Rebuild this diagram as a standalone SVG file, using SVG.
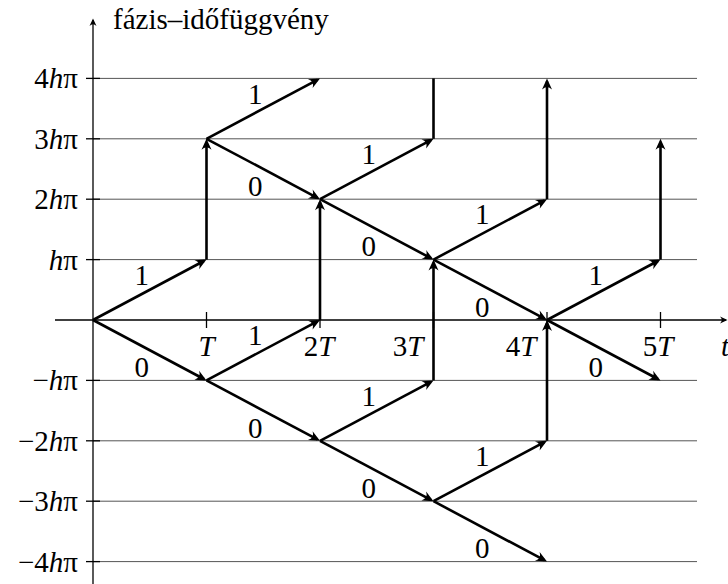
<svg xmlns="http://www.w3.org/2000/svg" width="728" height="584" viewBox="0 0 728 584">
<style>
text{font-family:"Liberation Serif","Times New Roman",serif;fill:#000}
.lab{font-size:29px;text-anchor:middle}
.yl{font-size:29px;text-anchor:end}
.it{font-style:italic}
.grid line{stroke:#555;stroke-width:1}
.tick line{stroke:#000;stroke-width:1.3}
.axis{stroke:#000;stroke-width:1.3;fill:none}
.e{stroke:#000;stroke-width:2.6;fill:none}
.ea{stroke:#000;stroke-width:2.6;fill:none;marker-end:url(#ah)}
</style>
<defs>
<marker id="ah" markerUnits="userSpaceOnUse" markerWidth="30" markerHeight="30" refX="0" refY="0" orient="auto" overflow="visible" viewBox="-15 -15 30 30">
<path d="M3,0 L-8,-5 Q-3,0 -8,5 Z" fill="#000"/>
</marker>
<marker id="axh" markerUnits="userSpaceOnUse" markerWidth="20" markerHeight="20" refX="0" refY="0" orient="auto" overflow="visible" viewBox="-10 -10 20 20">
<path d="M1.5,0 L-6,-3.5 Q-2.5,0 -6,3.5 Z" fill="#000"/>
</marker>
</defs>
<rect width="728" height="584" fill="#fff"/>
<g id="grid" class="grid">
<line x1="93" y1="78.4" x2="697" y2="78.4"/>
<line x1="93" y1="138.8" x2="697" y2="138.8"/>
<line x1="93" y1="199.2" x2="697" y2="199.2"/>
<line x1="93" y1="259.6" x2="697" y2="259.6"/>
<line x1="93" y1="380.4" x2="697" y2="380.4"/>
<line x1="93" y1="440.8" x2="697" y2="440.8"/>
<line x1="93" y1="501.2" x2="697" y2="501.2"/>
<line x1="93" y1="561.6" x2="697" y2="561.6"/>
</g>
<g id="axes">
<line class="axis" x1="93" y1="584" x2="93" y2="20" marker-end="url(#axh)"/>
<line class="axis" x1="55" y1="320" x2="726" y2="320" marker-end="url(#axh)"/>
</g>
<g id="ticks" class="tick">
<line x1="86" y1="78.4" x2="100" y2="78.4"/>
<line x1="86" y1="138.8" x2="100" y2="138.8"/>
<line x1="86" y1="199.2" x2="100" y2="199.2"/>
<line x1="86" y1="259.6" x2="100" y2="259.6"/>
<line x1="86" y1="380.4" x2="100" y2="380.4"/>
<line x1="86" y1="440.8" x2="100" y2="440.8"/>
<line x1="86" y1="501.2" x2="100" y2="501.2"/>
<line x1="86" y1="561.6" x2="100" y2="561.6"/>
<line x1="206.5" y1="312" x2="206.5" y2="328"/>
<line x1="320" y1="312" x2="320" y2="328"/>
<line x1="433.5" y1="312" x2="433.5" y2="328"/>
<line x1="547" y1="312" x2="547" y2="328"/>
<line x1="660.5" y1="312" x2="660.5" y2="328"/>
</g>
<g id="connectors">
<path class="ea" d="M93,320 L203.85,261.01"/>
<path class="ea" d="M206.5,138.8 L317.35,79.81"/>
<path class="ea" d="M206.5,380.4 L317.35,321.41"/>
<path class="ea" d="M320,199.2 L430.85,140.21"/>
<path class="ea" d="M320,440.8 L430.85,381.81"/>
<path class="ea" d="M433.5,259.6 L544.35,200.61"/>
<path class="ea" d="M433.5,501.2 L544.35,442.21"/>
<path class="ea" d="M547,320 L657.85,261.01"/>
<path class="ea" d="M93,320 L203.85,378.99"/>
<path class="ea" d="M206.5,138.8 L317.35,197.79"/>
<path class="ea" d="M206.5,380.4 L317.35,439.39"/>
<path class="ea" d="M320,199.2 L430.85,258.19"/>
<path class="ea" d="M320,440.8 L430.85,499.79"/>
<path class="ea" d="M433.5,259.6 L544.35,318.59"/>
<path class="ea" d="M433.5,501.2 L544.35,560.19"/>
<path class="ea" d="M547,320 L657.85,378.99"/>
<path class="ea" d="M206.5,259.6 L206.5,141.8"/>
<path class="ea" d="M320,320 L320,202.2"/>
<path class="e" d="M433.5,138.8 L433.5,78.4"/>
<path class="ea" d="M433.5,380.4 L433.5,262.6"/>
<path class="ea" d="M547,199.2 L547,81.4"/>
<path class="ea" d="M547,440.8 L547,323"/>
<path class="ea" d="M660.5,259.6 L660.5,141.8"/>
</g>
<g id="edge-labels">
<text class="lab" x="141.75" y="284.8">1</text>
<text class="lab" x="255.25" y="103.6">1</text>
<text class="lab" x="255.25" y="345.2">1</text>
<text class="lab" x="368.75" y="164">1</text>
<text class="lab" x="368.75" y="405.6">1</text>
<text class="lab" x="482.25" y="224.4">1</text>
<text class="lab" x="482.25" y="466">1</text>
<text class="lab" x="595.75" y="284.8">1</text>
<text class="lab" x="141.75" y="377.2">0</text>
<text class="lab" x="255.25" y="195.6">0</text>
<text class="lab" x="255.25" y="437.6">0</text>
<text class="lab" x="368.75" y="256.4">0</text>
<text class="lab" x="368.75" y="498">0</text>
<text class="lab" x="482.25" y="316.8">0</text>
<text class="lab" x="482.25" y="558.4">0</text>
<text class="lab" x="595.75" y="377.2">0</text>
</g>
<g id="y-labels">
<text class="yl" x="78" y="88.4">4<tspan class="it">h</tspan>π</text>
<text class="yl" x="78" y="148.8">3<tspan class="it">h</tspan>π</text>
<text class="yl" x="78" y="209.2">2<tspan class="it">h</tspan>π</text>
<text class="yl" x="78" y="269.6"><tspan class="it">h</tspan>π</text>
<text class="yl" x="78" y="390.4">−<tspan class="it">h</tspan>π</text>
<text class="yl" x="78" y="450.8">−2<tspan class="it">h</tspan>π</text>
<text class="yl" x="78" y="511.2">−3<tspan class="it">h</tspan>π</text>
<text class="yl" x="78" y="571.6">−4<tspan class="it">h</tspan>π</text>
</g>
<g id="x-labels">
<text class="lab it" x="206.5" y="356">T</text>
<text class="lab" x="319" y="356">2<tspan class="it">T</tspan></text>
<text class="lab" x="408" y="356">3<tspan class="it">T</tspan></text>
<text class="lab" x="521" y="356">4<tspan class="it">T</tspan></text>
<text class="lab" x="658" y="356">5<tspan class="it">T</tspan></text>
<text class="it" x="721" y="356" font-size="29">t</text>
</g>
<g id="title">
<text x="113" y="29" font-size="29">fázis–időfüggvény</text>
</g>
</svg>
